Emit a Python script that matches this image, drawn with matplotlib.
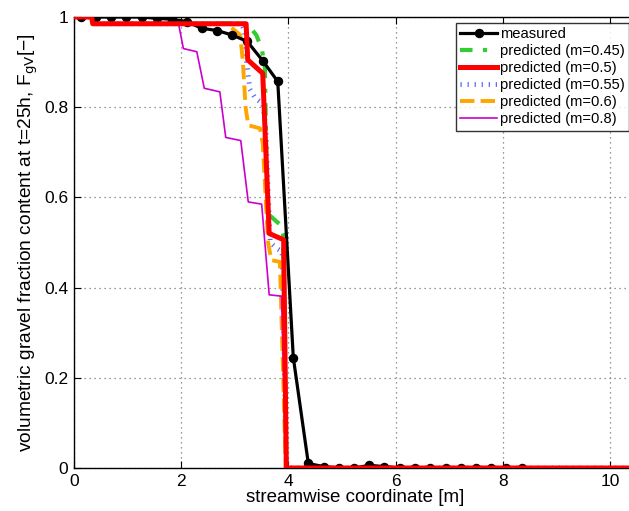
import matplotlib
matplotlib.use("Agg")
import matplotlib.pyplot as plt

plt.rcParams['font.family'] = ['Liberation Sans', 'DejaVu Sans']

# measured gravel fraction at t=25h
x_meas = [0.125, 0.41, 0.69, 0.97, 1.26, 1.54, 1.82, 2.10, 2.38, 2.67, 2.95, 3.23, 3.52, 3.80,
          4.09, 4.37, 4.66, 4.94, 5.23, 5.51, 5.79, 6.08, 6.36, 6.64, 6.93, 7.21, 7.49, 7.78, 8.06, 8.35]
y_meas = [1.0, 1.0, 1.0, 1.0, 1.0, 0.997, 0.995, 0.99, 0.975, 0.97, 0.96, 0.946, 0.903, 0.857,
          0.245, 0.01, 0.003, 0.0, 0.0, 0.006, 0.003, 0.0, 0.0, 0.0, 0.0, 0.0, 0.0, 0.0, 0.0, 0.0]

# predicted, m=0.45
x_045 = [0, 0.33, 0.35, 3.2, 3.3, 3.4, 3.5, 3.56, 3.6, 3.65, 3.84, 3.9, 3.96, 10.5]
y_045 = [1, 1, 0.985, 0.985, 0.975, 0.96, 0.93, 0.89, 0.6, 0.56, 0.54, 0.52, 0, 0]

# predicted, m=0.5
x_050 = [0, 0.33, 0.35, 3.21, 3.24, 3.52, 3.64, 3.91, 3.96, 10.5]
y_050 = [1, 1, 0.985, 0.985, 0.905, 0.875, 0.52, 0.506, 0, 0]

# predicted, m=0.55
x_055 = [0, 0.33, 0.35, 3.12, 3.18, 3.22, 3.28, 3.38, 3.52, 3.58, 3.66, 3.78, 3.88, 3.96, 10.5]
y_055 = [1, 1, 0.985, 0.985, 0.97, 0.9, 0.84, 0.82, 0.808, 0.75, 0.5, 0.487, 0.48, 0, 0]

# predicted, m=0.6
x_060 = [0, 0.33, 0.35, 2.85, 3.1, 3.15, 3.2, 3.25, 3.47, 3.52, 3.62, 3.68, 3.84, 3.95, 10.5]
y_060 = [1, 1, 0.985, 0.985, 0.96, 0.9, 0.8, 0.76, 0.753, 0.72, 0.5, 0.461, 0.457, 0, 0]

# predicted, m=0.8
x_080 = [0, 0.33, 0.35, 1.95, 2.04, 2.29, 2.43, 2.72, 2.83, 3.11, 3.25, 3.50, 3.64, 3.87, 3.95, 10.5]
y_080 = [1, 1, 0.985, 0.985, 0.93, 0.923, 0.842, 0.834, 0.733, 0.726, 0.59, 0.585, 0.384, 0.381, 0, 0]

fig = plt.figure(figsize=(6.29, 5.11), dpi=100)
ax = fig.add_axes([74/629, 43/511, 563/629, 451/511])

ax.plot(x_meas, y_meas, '-o', color='black', lw=2.3, ms=5.8, label='measured', zorder=3)
ax.plot(x_045, y_045, color='#33cc33', lw=3, linestyle=(0, (3, 2.5, 1, 2.5)),
        label='predicted (m=0.45)', zorder=2.5)
ax.plot(x_050, y_050, '-', color='red', lw=3.6, label='predicted (m=0.5)', zorder=4)
ax.plot(x_055, y_055, color='#5566ff', lw=3.5, linestyle=(0, (0.25, 1.2)),
        dash_capstyle='butt', label='predicted (m=0.55)', zorder=2.5)
ax.plot(x_060, y_060, '--', color='#ffa500', lw=2.8, label='predicted (m=0.6)', zorder=2.5)
ax.plot(x_080, y_080, '-', color='#cc00cc', lw=1.2, label='predicted (m=0.8)', zorder=2.5)

ax.set_xlim(0, 10.5)
ax.set_ylim(0, 1)
ax.set_xticks([0, 2, 4, 6, 8, 10])
ax.set_yticks([0, 0.2, 0.4, 0.6, 0.8, 1])
ax.set_yticklabels(['0', '0.2', '0.4', '0.6', '0.8', '1'])
ax.tick_params(direction='in', top=True, right=True, labelsize=12.5, length=5, pad=4)
ax.grid(True, linestyle=(0, (1, 3)), color='#777777', lw=0.9)
for s in ax.spines.values():
    s.set_linewidth(1.0)

ax.set_xlabel('streamwise coordinate [m]', fontsize=13.5, labelpad=0)
ax.set_ylabel('volumetric gravel fraction content at t=25h, F$_{\\mathrm{gV}}$[\u2212]', fontsize=13.8, labelpad=3)

leg = ax.legend(loc='upper left', bbox_to_anchor=(456/629, 1 - 23/511), bbox_transform=fig.transFigure,
                fontsize=10.6, frameon=True, fancybox=False, edgecolor='black', borderpad=0.3,
                labelspacing=0.2, handlelength=2.5, handletextpad=0.2, borderaxespad=0)
leg.get_frame().set_linewidth(1.0)
leg.set_zorder(10)

fig.savefig('out.png', dpi=100)
